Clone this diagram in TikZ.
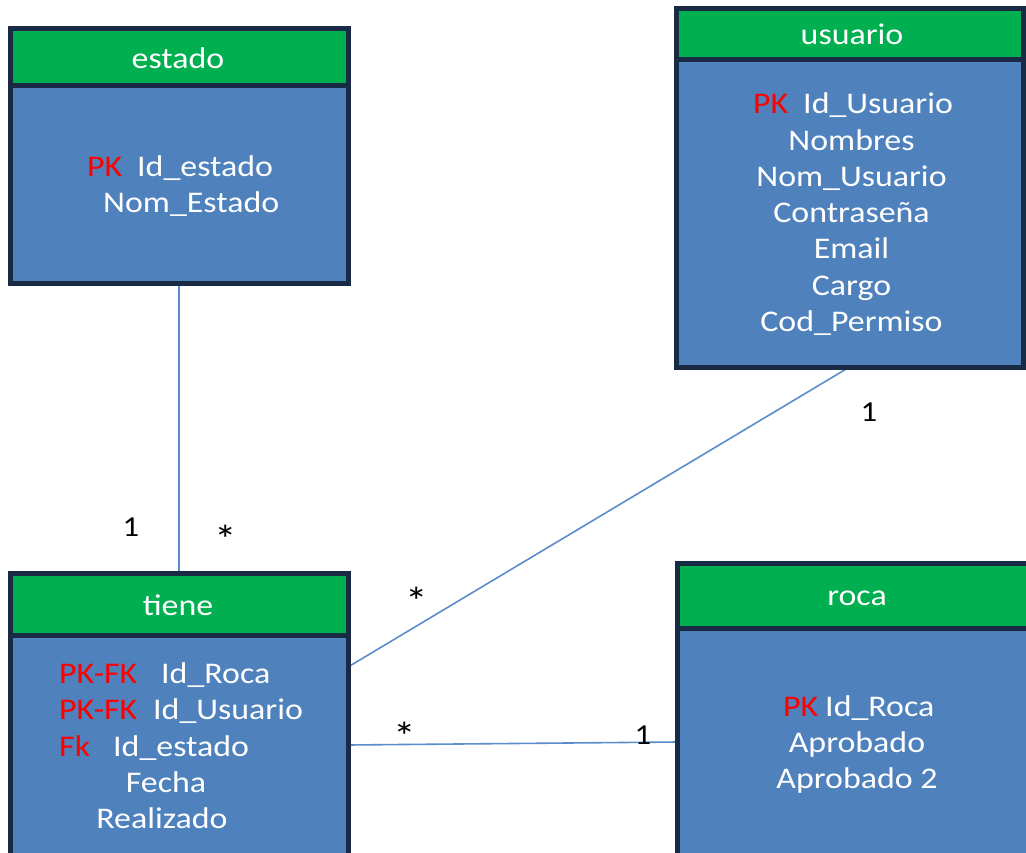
\documentclass[tikz,border=0pt]{standalone}
\usepackage{fontspec}
\setmainfont{Carlito}[FakeStretch=1.13]
\usetikzlibrary{calc}
\definecolor{hdr}{HTML}{00B050}
\definecolor{bdy}{HTML}{4F81BD}
\definecolor{brd}{HTML}{182A44}
\definecolor{lnk}{HTML}{5B8DCC}
\definecolor{pkred}{HTML}{FF0000}
\begin{document}
\begin{tikzpicture}[x=1pt,y=-1pt,
  body/.style={draw=brd,line width=5pt,fill=bdy,anchor=north west,inner sep=0pt,outer sep=0pt},
  head/.style={draw=brd,line width=5pt,fill=hdr,anchor=north west,inner sep=0pt,outer sep=0pt},
  wt/.style={text=white,font=\fontsize{30}{36}\selectfont,inner sep=0pt,anchor=base},
  wl/.style={wt,anchor=base west},
  rl/.style={text=pkred,font=\fontsize{30}{36}\selectfont,inner sep=0pt,anchor=base west},
  card/.style={text=black,font=\fontsize{29}{34}\selectfont,inner sep=0pt,anchor=base},
  star/.style={text=black,font=\fontsize{40}{44}\selectfont,inner sep=0pt,anchor=base},
  link/.style={draw=lnk,line width=1.6pt}]
\clip (0,0) rectangle (1026,852);
\useasboundingbox (0,0) rectangle (1026,852);
\fill[white] (0,0) rectangle (1026,852);

% boxes (bodies)
\node[body,minimum width=338pt,minimum height=255pt] (estado) at (10,28) {};
\node[body,minimum width=347pt,minimum height=359pt] (usuario) at (676,8) {};
\node[body,minimum width=338pt,minimum height=300pt] (tiene) at (10,573) {};
\node[body,minimum width=362pt,minimum height=310pt] (roca) at (677,563) {};

% connectors
\coordinate (tU) at ($(tiene.north east)+(0,94)$);
\coordinate (tR) at ($(tiene.north east)+(0,172)$);
\coordinate (rT) at ($(roca.north west)+(0,179)$);
\draw[link] (estado.south) -- (tiene.north);
\draw[link] (usuario.south) -- (tU);
\draw[link] (tR) -- (rT);

% redraw bodies over connector ends
\node[body,minimum width=338pt,minimum height=255pt] at (10,28) {};
\node[body,minimum width=347pt,minimum height=359pt] at (676,8) {};
\node[body,minimum width=338pt,minimum height=300pt] at (10,573) {};
\node[body,minimum width=362pt,minimum height=310pt] at (677,563) {};

% headers
\node[head,minimum width=338pt,minimum height=57pt] (estadoH) at (10,28) {};
\node[head,minimum width=347pt,minimum height=51pt] (usuarioH) at (676,8) {};
\node[head,minimum width=338pt,minimum height=62pt] (tieneH) at (10,573) {};
\node[head,minimum width=362pt,minimum height=65pt] (rocaH) at (677,563) {};

% header titles
\node[wt] (estadoT) at (178,68) {estado};
\node[wt] (usuarioT) at (852,44) {usuario};
\node[wt] (tieneT) at (178,615) {tiene};
\node[wt] (rocaT) at (857,605) {roca};

% estado fields
\node[rl] (e1k) at (87,176) {PK};
\node[wl] (e1) at (137,176) {Id\_estado};
\node[wl] (e2) at (103,212) {Nom\_Estado};

% usuario fields
\node[rl] (u1k) at (753,113) {PK};
\node[wl] (u1) at (803,113) {Id\_Usuario};
\node[wt] (u2) at (851.5,150) {Nombres};
\node[wt] (u3) at (851.5,186) {Nom\_Usuario};
\node[wt] (u4) at (851.5,222) {Contraseña};
\node[wt] (u5) at (851.5,258) {Email};
\node[wt] (u6) at (851.5,295) {Cargo};
\node[wt] (u7) at (851.5,331) {Cod\_Permiso};

% tiene fields
\node[rl] (t1k) at (59,683) {PK-FK};
\node[wl] (t1) at (161,683) {Id\_Roca};
\node[rl] (t2k) at (59,719) {PK-FK};
\node[wl] (t2) at (153,719) {Id\_Usuario};
\node[rl] (t3k) at (59,756) {Fk};
\node[wl] (t3) at (113,756) {Id\_estado};
\node[wt] (t4) at (166,792) {Fecha};
\node[wt] (t5) at (162,828) {Realizado};

% roca fields
\node[rl] (r1k) at (783,716) {PK};
\node[wl] (r1) at (825,716) {Id\_Roca};
\node[wt] (r2) at (857,752) {Aprobado};
\node[wt] (r3) at (857,788) {Aprobado 2};

% cardinalities
\node[card] (c1) at (131,536) {1};
\node[star] (c2) at (226,553) {*};
\node[star] (c3) at (417,615) {*};
\node[card] (c4) at (869,421) {1};
\node[star] (c5) at (405,750) {*};
\node[card] (c6) at (643,744) {1};
\end{tikzpicture}
\end{document}
